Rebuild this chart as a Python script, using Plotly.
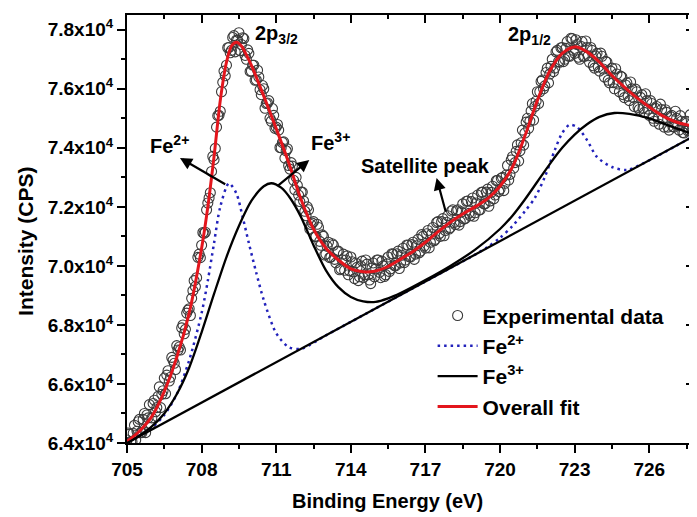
import plotly.graph_objects as go

# ---------------- data ----------------
exp_x = [round(705.0 + 0.1 * i, 1) for i in range(229)]
exp_y = [
    64100, 64300, 64050, 64600, 64400, 64800, 64350, 65000, 64950, 65300,
    64850, 65450, 65200, 65900, 65650, 66200, 66300, 66100, 66900, 66700,
    67300, 67250, 67900, 67700, 68400, 68550, 68900, 69500, 69600, 70400,
    70700, 71100, 71900, 72300, 73200, 73600, 74700, 75100, 75900, 76600,
    76800, 77400, 77300, 77800, 77650, 77900, 77500, 77700, 77000, 77200,
    76600, 76800, 76300, 76400, 75800, 76000, 75500, 75600, 74900, 75100,
    74700, 74600, 74000, 74200, 73900, 73400, 73500, 72900, 73000, 72400,
    72500, 72200, 71700, 71900, 71400, 71500, 71000, 71300, 70700, 71000,
    70400, 70800, 70300, 70700, 70100, 70500, 69900, 70400, 70200, 69700,
    70300, 69800, 70100, 69500, 70000, 69600, 70200, 69700, 69400, 70100,
    69900, 70200, 69600, 70000, 69700, 70300, 69900, 70400, 70000, 70500,
    70100, 70600, 70200, 70700, 70300, 70800, 70400, 70900, 70500, 71000,
    70600, 71200, 70800, 71300, 70900, 71500, 71000, 71600, 71200, 71700,
    71300, 71900, 71400, 71900, 71500, 72100, 71600, 72200, 71700, 72300,
    71800, 72400, 71900, 72500, 72100, 72600, 72200, 72700, 72400, 72900,
    72600, 73000, 72800, 73400, 73100, 73700, 73500, 74100, 73900, 74600,
    74500, 75000, 74900, 75500, 75400, 75900, 75900, 76300, 76100, 76700,
    76500, 77000, 76700, 77300, 76900, 77400, 77000, 77600, 77100, 77700,
    77200, 77500, 77000, 77600, 77100, 77400, 76900, 77300, 76700, 77200,
    76600, 77100, 76400, 76900, 76200, 76700, 76000, 76500, 75900, 76400,
    75700, 76200, 75600, 76000, 75400, 75900, 75300, 75800, 75200, 75600,
    75100, 75500, 74900, 75400, 74800, 75300, 74700, 75200, 74600, 75100,
    74700, 75000, 74600, 74900, 74500, 74900, 74600, 74800, 74600,
]
# second set of data points, lying between the ones above
exp_mid_x = [round(705.05 + 0.1 * i, 2) for i in range(228)]
exp_mid_y = [
    64340, 64050, 64330, 64100, 64720, 64350, 64800, 64350, 64850, 64650,
    65340, 65060, 65580, 65200, 65770, 65670, 66450, 66230, 66800, 66490,
    67150, 67150, 68000, 67850, 68500, 68320, 69160, 69300, 70290, 70280,
    71130, 71140, 72130, 72480, 73710, 73980, 75090, 75240, 76220, 76440,
    77390, 77220, 77740, 77250, 77650, 77290, 77730, 77130, 77320, 76590,
    76800, 76290, 76630, 75970, 76110, 75340, 75520, 75000, 75330, 74660,
    74790, 74010, 74180, 73650, 73970, 73280, 73380, 72580, 72730, 72180,
    72500, 71850, 72000, 71250, 71450, 70990, 71410, 70830, 71050, 70370,
    70660, 70280, 70750, 70220, 70490, 69870, 70210, 69850, 70340, 69830,
    70140, 69570, 69950, 69630, 70160, 69700, 70060, 69520, 69920, 69630,
    70200, 69780, 70160, 69640, 70070, 69810, 70410, 70010, 70410, 69910,
    70360, 70110, 70710, 70310, 70720, 70220, 70680, 70440, 71060, 70670,
    71090, 70610, 71080, 70850, 71470, 71090, 71500, 71020, 71480, 71250,
    71860, 71470, 71870, 71380, 71830, 71590, 72190, 71780, 72180, 71680,
    72130, 71890, 72490, 72100, 72500, 72020, 72490, 72270, 72890, 72520,
    72970, 72550, 73080, 72910, 73590, 73310, 73880, 73550, 74170, 74090,
    74870, 74660, 75250, 74940, 75580, 75500, 76250, 76000, 76550, 76200,
    76760, 76580, 77250, 76920, 77390, 76920, 77370, 77110, 77710, 77300,
    77660, 77070, 77440, 77100, 77620, 77120, 77400, 76780, 77110, 76740,
    77210, 76670, 76930, 76290, 76600, 76210, 76680, 76160, 76430, 75800,
    76130, 75750, 76230, 75710, 75990, 75370, 75710, 75340, 75830, 75310,
    75600, 75000, 75340, 74990, 75480, 74980, 75290, 74700, 75060, 74720,
    75240, 74770, 75090, 74520, 74890, 74580, 75120, 74660,
]

fit_x = [705.0, 705.5, 706.0, 706.5, 707.0, 707.5, 708.0, 708.25, 708.5, 708.75,
         709.0, 709.2, 709.4, 709.6, 709.8, 710.0, 710.5, 711.0, 711.5, 712.0,
         712.5, 713.0, 713.5, 714.0, 714.5, 715.0, 715.5, 716.0, 716.5, 717.0,
         717.5, 718.0, 718.5, 719.0, 719.5, 720.0, 720.5, 721.0, 721.5, 722.0,
         722.5, 723.0, 723.5, 724.0, 724.5, 725.0, 725.5, 726.0, 726.5, 727.0,
         727.5, 727.8]
fit_y = [64050, 64400, 64900, 65750, 66900, 68400, 70600, 72000, 73700, 75600,
         76900, 77450, 77580, 77450, 77150, 76800, 75750, 74650, 73500, 72250,
         71250, 70600, 70200, 69900, 69800, 69830, 69980, 70230, 70490, 70800,
         71150, 71480, 71760, 72000, 72280, 72700, 73350, 74400, 75600, 76600,
         77200, 77420, 77250, 76900, 76450, 76060, 75700, 75380, 75100, 74900,
         74780, 74750]

fe2_x = [705.0, 705.5, 706.0, 706.5, 707.0, 707.5, 708.0, 708.25, 708.5, 708.75,
         709.1, 709.4, 709.65, 709.9, 710.2, 710.5, 711.0, 711.5, 712.0, 713.0,
         714.0, 715.0, 716.0, 717.0, 718.0, 719.0, 719.5, 720.0, 720.5, 721.0,
         721.4, 721.8, 722.2, 722.5, 722.8, 723.1, 723.5, 723.9, 724.5, 725.1,
         726.0, 727.0, 727.8]
fe2_y = [64000, 64250, 64520, 64950, 65650, 66800, 68400, 69500, 70770, 72000,
         72800, 72450, 71660, 70770, 69760, 68840, 67720, 67250, 67190, 67648,
         68104, 68560, 69016, 69472, 69928, 70384, 70640, 70950, 71350, 71850,
         72300, 73010, 73920, 74500, 74780, 74700, 74260, 73690, 73350, 73250,
         73576, 74032, 74397]

fe3_x = [705.0, 705.5, 706.0, 706.5, 707.0, 707.5, 708.0, 708.5, 709.0, 709.5,
         710.0, 710.5, 710.8, 711.2, 711.6, 712.0, 712.5, 713.0, 713.5, 714.0,
         714.5, 715.0, 715.5, 716.0, 717.0, 718.0, 719.0, 720.0, 720.5, 721.0,
         721.5, 722.0, 722.5, 723.0, 723.5, 724.0, 724.6, 725.2, 726.0, 726.7,
         727.3, 727.8]
fe3_y = [64000, 64250, 64560, 65000, 65650, 66550, 67750, 69050, 70300, 71350,
         72200, 72700, 72800, 72650, 72250, 71650, 70700, 69850, 69280, 68950,
         68800, 68780, 68900, 69080, 69520, 70000, 70550, 71250, 71700, 72250,
         72850, 73450, 74000, 74450, 74800, 75050, 75180, 75150, 75000, 74780,
         74600, 74450]

bg_x = [705.0, 716.0, 727.8]
bg_y = [64000, 69016, 74397]

x_ticks = [705, 708, 711, 714, 717, 720, 723, 726]
y_ticks = [64000, 66000, 68000, 70000, 72000, 74000, 76000, 78000]
y_tick_text = ["6.4", "6.6", "6.8", "7.0", "7.2", "7.4", "7.6", "7.8"]

# ---------------- figure ----------------
FONT = "Liberation Sans, Arial, sans-serif"
fig = go.Figure()

fig.add_trace(go.Scatter(
    x=exp_x + exp_mid_x, y=exp_y + exp_mid_y, mode="markers",
    name="<b>Experimental data</b>",
    marker=dict(symbol="circle-open", size=10, color="#3a3a3a", line=dict(width=1.1)),
))
fig.add_trace(go.Scatter(
    x=fe2_x, y=fe2_y, mode="lines", name="<b>Fe<sup>2+</sup></b>",
    line=dict(color="#2222bb", width=2.5, dash="2.5px,4px", shape="spline", smoothing=0.8),
))
fig.add_trace(go.Scatter(
    x=fe3_x, y=fe3_y, mode="lines", name="<b>Fe<sup>3+</sup></b>",
    line=dict(color="black", width=2.3, shape="spline", smoothing=0.8),
))
fig.add_trace(go.Scatter(
    x=fit_x, y=fit_y, mode="lines", name="<b>Overall fit</b>",
    line=dict(color="#e3161d", width=3, shape="spline", smoothing=0.8),
))
fig.add_trace(go.Scatter(
    x=bg_x, y=bg_y, mode="lines", showlegend=False,
    line=dict(color="black", width=2.3),
))
# dummy trace for mirrored axes (inside ticks on top/right)
fig.add_trace(go.Scatter(x=[None], y=[None], xaxis="x2", yaxis="y2",
                         showlegend=False, hoverinfo="skip"))

xr = [705, 727.8]
yr = [64000, 78500]

# the page body adds an 8px offset; size the figure to fit the window
fig.update_layout(
    width=689, height=509,
    margin=dict(l=119, r=1, t=7, b=74),
    paper_bgcolor="white", plot_bgcolor="white",
    font=dict(family=FONT, size=19, color="black"),
    showlegend=True,
    legend=dict(x=0.539, y=0.345, xanchor="left", yanchor="top",
                bgcolor="rgba(0,0,0,0)", font=dict(size=21),
                itemwidth=40, tracegroupgap=0),
    xaxis=dict(range=xr, showgrid=False, zeroline=False,
               showline=True, linecolor="black", linewidth=2, mirror=True,
               ticks="outside", ticklen=8, tickwidth=2, tickcolor="black",
               tickvals=x_ticks, ticktext=[f"<b>{v}</b>" for v in x_ticks],
               tickfont=dict(size=19),
               minor=dict(dtick=1.5, tick0=705, ticks="outside", ticklen=4,
                          tickwidth=2, tickcolor="black", showgrid=False)),
    yaxis=dict(range=yr, showgrid=False, zeroline=False,
               showline=True, linecolor="black", linewidth=2, mirror=True,
               ticks="outside", ticklen=8, tickwidth=2, tickcolor="black",
               tickvals=y_ticks,
               ticktext=[f"<b>{t}x10<sup>4</sup></b>" for t in y_tick_text],
               tickfont=dict(size=19),
               minor=dict(dtick=1000, tick0=64000, ticks="outside", ticklen=4,
                          tickwidth=2, tickcolor="black", showgrid=False)),
    xaxis2=dict(range=xr, overlaying="x", side="top", anchor="y",
                showgrid=False, zeroline=False, showline=False,
                showticklabels=False, ticks="inside", ticklen=8, tickwidth=2,
                tickcolor="black", tickvals=x_ticks,
                minor=dict(dtick=1.5, tick0=705, ticks="inside", ticklen=4,
                           tickwidth=2, tickcolor="black", showgrid=False)),
    yaxis2=dict(range=yr, overlaying="y", side="right", anchor="x",
                showgrid=False, zeroline=False, showline=False,
                showticklabels=False, ticks="inside", ticklen=8, tickwidth=2,
                tickcolor="black", tickvals=y_ticks,
                minor=dict(dtick=1000, tick0=64000, ticks="inside", ticklen=4,
                           tickwidth=2, tickcolor="black", showgrid=False)),
)

ann = []
# axis titles
ann.append(dict(text="<b>Binding Energy (eV)</b>", xref="paper", yref="paper",
                x=0.46, y=-0.135, xanchor="center", yanchor="middle",
                showarrow=False, font=dict(size=20)))
ann.append(dict(text="<b>Intensity (CPS)</b>", xref="paper", yref="paper",
                x=-0.178, y=0.47, xanchor="center", yanchor="middle",
                textangle=-90, showarrow=False, font=dict(size=21)))
# peak labels
ann.append(dict(text="<b>2p<sub>3/2</sub></b>", x=711.0, y=77850, xref="x", yref="y",
                showarrow=False, font=dict(size=20)))
ann.append(dict(text="<b>2p<sub>1/2</sub></b>", x=721.2, y=77800, xref="x", yref="y",
                showarrow=False, font=dict(size=20)))
ann.append(dict(text="<b>Fe<sup>2+</sup></b>", x=706.7, y=74100, xref="x", yref="y",
                showarrow=False, font=dict(size=20)))
ann.append(dict(text="<b>Fe<sup>3+</sup></b>", x=713.2, y=74200, xref="x", yref="y",
                showarrow=False, font=dict(size=20)))
ann.append(dict(text="<b>Satellite peak</b>", x=717.0, y=73400, xref="x", yref="y",
                showarrow=False, font=dict(size=20)))
# arrows
for hx, hy, tx, ty in [(707.13, 73657, 709.01, 72735),
                       (712.33, 73589, 711.0, 72673),
                       (717.45, 72979, 717.83, 71792)]:
    ann.append(dict(text="", x=hx, y=hy, ax=tx, ay=ty, xref="x", yref="y",
                    axref="x", ayref="y", showarrow=True, arrowhead=2,
                    arrowsize=1.1, arrowwidth=2.2, arrowcolor="black"))
fig.update_layout(annotations=ann)

fig.write_html("out.html")
